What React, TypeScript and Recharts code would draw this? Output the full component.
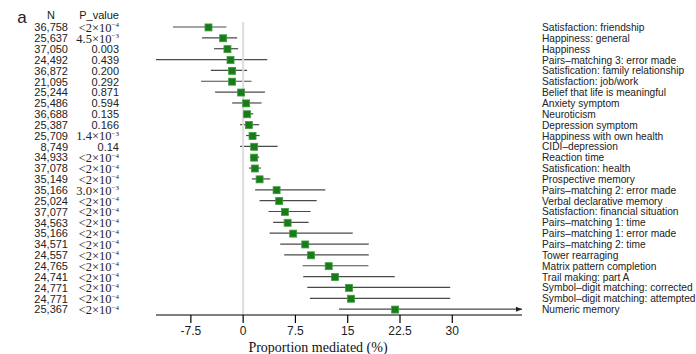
import React from 'react'
import { ComposedChart, Bar, Line, XAxis, YAxis, ReferenceLine } from 'recharts'

const outcomes = [
  'Satisfaction: friendship',
  'Happiness: general',
  'Happiness',
  'Pairs\u2013matching 3: error made',
  'Satisfication: family relationship',
  'Satisfaction: job/work',
  'Belief that life is meaningful',
  'Anxiety symptom',
  'Neuroticism',
  'Depression symptom',
  'Happiness with own health',
  'CIDI\u2013depression',
  'Reaction time',
  'Satisfication: health',
  'Prospective memory',
  'Pairs\u2013matching 2: error made',
  'Verbal declarative memory',
  'Satisfaction: financial situation',
  'Pairs\u2013matching 1: time',
  'Pairs\u2013matching 1: error made',
  'Pairs\u2013matching 2: time',
  'Tower rearraging',
  'Matrix pattern completion',
  'Trail making: part A',
  'Symbol\u2013digit matching: corrected',
  'Symbol\u2013digit matching: attempted',
  'Numeric memory',
]

const nValues = [
  '36,758', '25,637', '37,050', '24,492', '36,872', '21,095', '25,244', '25,486', '36,688',
  '25,387', '25,709', '8,749', '34,933', '37,078', '35,149', '35,166', '25,024', '37,077',
  '34,563', '35,166', '34,571', '24,557', '24,765', '24,741', '24,771', '24,771', '25,367',
]

const pValues = [
  '<2e-4', '4.5e-3', '0.003', '0.439', '0.200', '0.292', '0.871', '0.594', '0.135',
  '0.166', '1.4e-3', '0.14', '<2e-4', '<2e-4', '<2e-4', '3.0e-3', '<2e-4', '<2e-4',
  '<2e-4', '<2e-4', '<2e-4', '<2e-4', '<2e-4', '<2e-4', '<2e-4', '<2e-4', '<2e-4',
]

const estimates = [
  -4.97, -2.87, -2.25, -1.81, -1.58, -1.58, -0.29, 0.43, 0.57, 0.82, 1.35, 1.58, 1.58, 1.68,
  2.36, 4.8, 5.17, 5.99, 6.38, 7.18, 8.91, 9.73, 12.27, 13.18, 15.19, 15.47, 21.8,
]

const ciLower = [
  -10.06, -5.9, -4.17, -13.3, -4.64, -6.03, -4.02, -1.58, -0.09, -0.43, 0.43, -0.43, 0.96, 0.86,
  1.25, 1.72, 2.36, 3.65, 4.31, 3.79, 5.32, 5.89, 8.53, 8.62, 9.2, 9.58, 13.75,
]

const ciUpper = [
  -2.4, -0.86, -0.72, 3.45, 0.57, 1.2, 3.12, 2.64, 1.44, 2.3, 2.36, 4.94, 2.3, 2.54,
  3.88, 11.78, 10.55, 9.68, 9.4, 15.72, 18.02, 18.02, 17.97, 21.75, 29.7, 29.7, 40,
]

const xTicks = [-7.5, 0, 7.5, 15, 22.5, 30]
const X_MIN = -12.5
const X_MAX = 40

const SANS = '"Liberation Sans", Arial, Helvetica, sans-serif'
const SERIF = '"Liberation Serif", "Times New Roman", serif'

const data = outcomes.map((name, i) => ({
  name,
  n: nValues[i],
  p: pValues[i],
  est: estimates[i],
  ci: [ciLower[i], ciUpper[i]],
}))

// "<2e-4" -> <2×10 with a raised −4
const PText = ({ x, y, p }: { x: number; y: number; p: string }) => {
  const m = p.match(/^(<?[\d.]+)e-(\d+)$/)
  if (!m) {
    return (
      <text x={x} y={y} dy='0.35em' textAnchor='end' fontFamily={SANS} fontSize={11} fill='#222'>
        {p}
      </text>
    )
  }
  return (
    <text x={x} y={y} dy='0.36em' textAnchor='end' fontFamily={SERIF} fontSize={12.5} fill='#222'>
      {m[1]}×10
      <tspan dy={-4.5} fontSize={7}>{'\u2212' + m[2]}</tspan>
    </text>
  )
}

const RowTick = (props: any) => {
  const { y, payload } = props
  const i = payload.index
  return (
    <g>
      {i === 0 && (
        <g fill='#222'>
          <text x={22} y={y - 10} dy='0.35em' textAnchor='middle' fontFamily={SANS} fontSize={17}>
            a
          </text>
          <text x={51} y={y - 12} dy='0.35em' textAnchor='middle' fontFamily={SANS} fontSize={11}>
            N
          </text>
          <text x={119} y={y - 12} dy='0.35em' textAnchor='end' fontFamily={SANS} fontSize={11}>
            P_value
          </text>
        </g>
      )}
      <text x={68} y={y} dy='0.35em' textAnchor='end' fontFamily={SANS} fontSize={11} fill='#222'>
        {nValues[i]}
      </text>
      <PText x={119} y={y} p={pValues[i]} />
      <text x={542} y={y} dy='0.35em' fontFamily={SANS} fontSize={10.2} fill='#222'>
        {outcomes[i]}
      </text>
    </g>
  )
}

const CiShape = (props: any) => {
  const { x, y, width, height, payload } = props
  const cy = y + height / 2
  const x2 = x + width
  return (
    <g>
      <line x1={x} y1={cy} x2={x2} y2={cy} stroke='#4a4a4a' strokeWidth={1.2} />
      {payload.ci[1] >= X_MAX && (
        <path d={`M${x2 - 6},${cy - 2.5} L${x2},${cy} L${x2 - 6},${cy + 2.5} Z`} fill='#222' />
      )}
    </g>
  )
}

const SquareDot = (props: any) => {
  const { cx, cy, index } = props
  return (
    <rect
      key={`dot-${index}`}
      x={cx - 3.5}
      y={cy - 3.5}
      width={7}
      height={7}
      fill='#187c18'
      stroke='#3f9d3f'
      strokeWidth={0.8}
    />
  )
}

const AxisTitle = () => (
  <text x={318} y={347} dy='0.35em' textAnchor='middle' fontFamily={SERIF} fontSize={14} fill='#111'>
    Proportion mediated (%)
  </text>
)

export default function App() {
  return (
    <div style={{ position: 'absolute', left: 0, top: 0, background: '#fff' }}>
      <ComposedChart
        width={696}
        height={354}
        data={data}
        layout='vertical'
        margin={{ top: 22, right: 0, bottom: 0, left: 156 }}
      >
        <XAxis
          type='number'
          domain={[X_MIN, X_MAX]}
          allowDataOverflow
          ticks={xTicks}
          interval={0}
          height={39}
          tickSize={8}
          tickMargin={3}
          axisLine={{ stroke: '#000', strokeWidth: 1.2 }}
          tickLine={{ stroke: '#000', strokeWidth: 1.2 }}
          tick={{ fontSize: 12, fill: '#222', fontFamily: SANS }}
          label={{ content: () => <AxisTitle /> }}
        />
        <YAxis
          type='category'
          dataKey='name'
          orientation='right'
          width={174}
          interval={0}
          axisLine={false}
          tickLine={false}
          tick={RowTick}
        />
        <ReferenceLine x={0} stroke='#dddddd' strokeWidth={2} />
        <Bar dataKey='ci' barSize={2} shape={CiShape} isAnimationActive={false} />
        <Line
          dataKey='est'
          stroke='none'
          dot={SquareDot}
          activeDot={false}
          isAnimationActive={false}
        />
      </ComposedChart>
    </div>
  )
}
